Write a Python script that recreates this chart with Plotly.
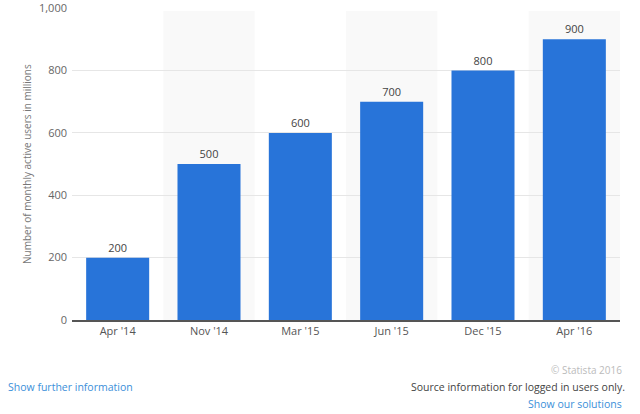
import plotly.graph_objects as go

categories = ["Apr '14", "Nov '14", "Mar '15", "Jun '15", "Dec '15", "Apr '16"]
values = [200, 500, 600, 700, 800, 900]
y_ticks = [0, 200, 400, 600, 800, 1000]
y_tick_labels = ["0", "200", "400", "600", "800", "1,000"]

L, R, T, B = 72, 20, 8, 94
W, H = 640, 414
pw, ph = W - L - R, H - T - B

def px(x):
    return (x - L) / pw

def py(y):
    return (H - B - y) / ph

fig = go.Figure()
fig.add_trace(go.Bar(
    x=categories, y=values,
    marker=dict(color="#2874d9", line=dict(width=0)),
    text=[str(v) for v in values], textposition="outside",
    textfont=dict(family="Open Sans", size=11, color="#444444"),
    cliponaxis=False,
))

shapes = []
for i in range(len(categories)):
    if i % 2 == 1:
        shapes.append(dict(type="rect", xref="x", yref="paper", x0=i - 0.5, x1=i + 0.5,
                           y0=0, y1=0.99, fillcolor="#f9f9f9", line=dict(width=0), layer="below"))

fig.update_layout(
    width=W, height=H,
    margin=dict(l=L, r=R, t=T, b=B),
    paper_bgcolor="white", plot_bgcolor="white",
    bargap=0.31,
    showlegend=False,
    shapes=shapes,
    font=dict(family="Open Sans", size=11, color="#666666"),
    xaxis=dict(showgrid=False, showline=True, linecolor="#555555", linewidth=1.5,
               ticks="", automargin=False, tickfont=dict(size=11, color="#555555")),
    yaxis=dict(range=[0, 1000.5], tickvals=y_ticks, ticktext=y_tick_labels,
               showgrid=True, gridcolor="#e6e6e6", gridwidth=1, zeroline=False,
               ticks="", automargin=False, ticklabelstandoff=4,
               tickfont=dict(size=11, color="#666666")),
    annotations=[
        dict(text="Number of monthly active users in millions", xref="paper", yref="paper",
             x=px(27), y=0.5, xanchor="center", yanchor="middle", textangle=-90, showarrow=False,
             font=dict(size=10, color="#777777")),
        dict(text="Show further information", xref="paper", yref="paper", x=px(6), y=py(387),
             xanchor="left", yanchor="middle", showarrow=False,
             font=dict(size=10.5, color="#3b8fd9")),
        dict(text="Source information for logged in users only.", xref="paper", yref="paper",
             x=px(627), y=py(387), xanchor="right", yanchor="middle", showarrow=False,
             font=dict(size=10.5, color="#444444")),
        dict(text="Show our solutions", xref="paper", yref="paper",
             x=px(624), y=py(404), xanchor="right", yanchor="middle", showarrow=False,
             font=dict(size=10.5, color="#3b8fd9")),
        dict(text="© Statista 2016", xref="paper", yref="paper",
             x=px(624), y=py(370), xanchor="right", yanchor="middle", showarrow=False,
             font=dict(size=10, color="#bbbbbb")),
    ],
)

fig.write_html("out.html", config={"displayModeBar": False},
               post_script="document.body.style.margin='0';document.body.style.overflow='hidden';")
